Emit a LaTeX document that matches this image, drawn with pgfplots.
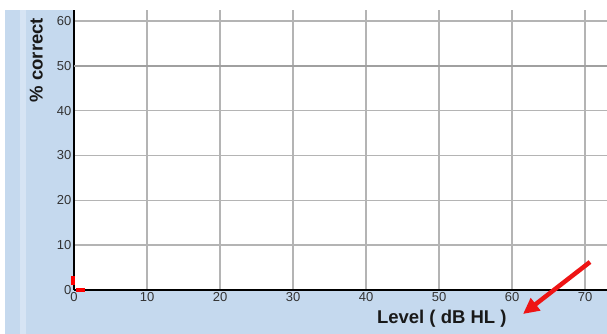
\documentclass[border=0pt]{standalone}
\usepackage{pgfplots}
\pgfplotsset{compat=1.18}
\usepackage{fontspec}
\setmainfont{Liberation Sans}
\usetikzlibrary{arrows.meta}
\definecolor{bgblue}{RGB}{197,217,238}
\definecolor{stripe}{RGB}{214,228,244}
\definecolor{gridgray}{RGB}{180,180,180}
\definecolor{grid50}{RGB}{160,160,160}
\definecolor{arrowred}{RGB}{238,20,20}
\begin{document}
\begin{tikzpicture}[x=1pt,y=1pt]
% background
\fill[white] (0,0) rectangle (607,334);
\fill[bgblue] (5,0) rectangle (607,324);
\fill[stripe] (20,0) rectangle (26,324);
\begin{axis}[
  at={(74pt,44pt)}, anchor=south west,
  scale only axis, width=533pt, height=280pt,
  xmin=0, xmax=73.0, ymin=0, ymax=62.45,
  axis background/.style={fill=white},
  axis x line*=bottom, axis y line*=left,
  axis line style={black, line width=1.5pt, -},
  xtick={0,10,...,70}, ytick={0,10,...,60},
  major tick length=0pt,
  grid=major,
  major grid style={gridgray, line width=1.6pt},
  tick label style={font=\fontsize{13}{15}\selectfont, text=black!80, inner sep=1.5pt},
  /pgf/number format/assume math mode=true,
  xticklabel style={yshift=-1pt},
  yticklabel style={xshift=-1pt},
  xlabel={\textbf{Level ( dB HL )}},
  ylabel={\textbf{\% correct}},
  label style={font=\fontsize{18.5}{20}\selectfont, text=black!90},
  xlabel style={at={(axis description cs:0.690,-0.104)}, anchor=center},
  ylabel style={at={(axis description cs:-0.071,0.821)}, anchor=center, rotate=0},
  clip=false,
]
\draw[grid50, line width=2.6pt] (axis cs:0,50) -- (axis cs:73,50);
\addplot[red, line width=4pt] coordinates {(-0.1,1.2) (-0.1,3.1)};
\addplot[red, line width=4pt] coordinates {(0.3,0.1) (1.5,0.1)};
\end{axis}
\draw[arrowred, line width=4.5pt, -{Triangle[length=16pt,width=15pt]}] (590,72) -- (523,20);
\fill[white] (0,324) rectangle (607,334);
\pgfresetboundingbox
\useasboundingbox (0,0) rectangle (607,334);
\end{tikzpicture}
\end{document}
